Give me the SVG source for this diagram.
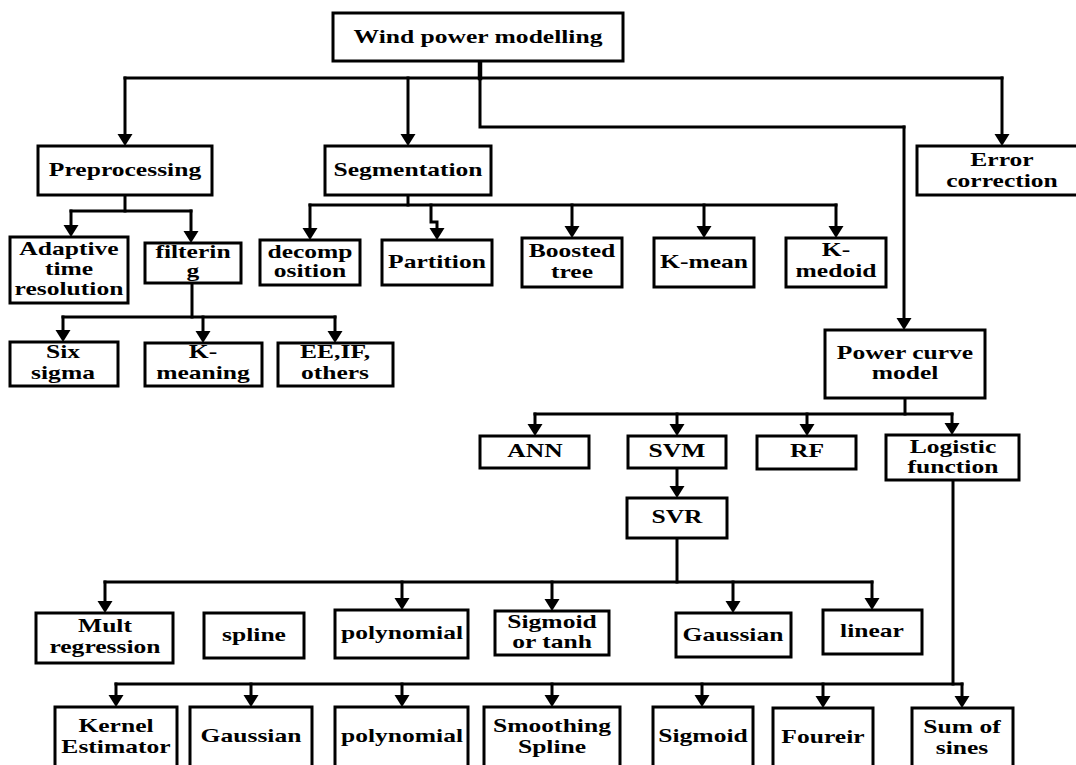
<svg xmlns="http://www.w3.org/2000/svg" width="1076" height="765" viewBox="0 0 1076 765">
<style>
.box{fill:#fff;stroke:#000;stroke-width:3}
.c{fill:none;stroke:#000;stroke-width:3;stroke-linecap:square}
.a{fill:none;stroke:#000;stroke-width:3;stroke-linecap:square;marker-end:url(#ah)}
text{font-family:"Liberation Serif","Times New Roman",serif;font-weight:bold;font-size:18px;text-anchor:middle;fill:#000}
</style>
<defs>
<marker id="ah" viewBox="0 -8 12 16" refX="2" refY="0" markerWidth="12" markerHeight="16" markerUnits="userSpaceOnUse" orient="auto"><path d="M0,-7.5 L12,0 L0,7.5 z" fill="#000"/></marker>
</defs>
<rect width="1076" height="765" fill="#fff"/>
<g id="connectors">
<path class="c" d="M480,61 V78" style="stroke-width:4.5"/>
<path class="c" d="M480,78 V127 H904"/>
<path class="a" d="M904,127 V320"/>
<path class="c" d="M125,78 H1002"/>
<path class="a" d="M125,78 V136"/>
<path class="a" d="M408,78 V136"/>
<path class="a" d="M1002,78 V136"/>
<path class="c" d="M125,195 V211"/>
<path class="c" d="M71,211 H191"/>
<path class="a" d="M71,211 V227"/>
<path class="a" d="M191,211 V233"/>
<path class="c" d="M192,283 V317"/>
<path class="c" d="M63,317 H335"/>
<path class="a" d="M63,317 V332"/>
<path class="a" d="M203,317 V333"/>
<path class="a" d="M335,317 V333"/>
<path class="c" d="M408,195 V205"/>
<path class="c" d="M310,205 H836"/>
<path class="a" d="M310,205 V230"/>
<path class="a" d="M431,205 V222 H437 V230"/>
<path class="a" d="M572,205 V228"/>
<path class="a" d="M704,205 V228"/>
<path class="a" d="M836,205 V228"/>
<path class="c" d="M905,398 V414"/>
<path class="c" d="M535,414 H952"/>
<path class="a" d="M535,414 V426"/>
<path class="a" d="M677,414 V426"/>
<path class="a" d="M807,414 V426"/>
<path class="a" d="M952,414 V425"/>
<path class="a" d="M677,468 V488"/>
<path class="c" d="M677,538 V582"/>
<path class="c" d="M105,582 H872"/>
<path class="a" d="M105,582 V603"/>
<path class="a" d="M402,582 V600"/>
<path class="a" d="M552,582 V601"/>
<path class="a" d="M733,582 V603"/>
<path class="a" d="M872,582 V600"/>
<path class="c" d="M953,480 V684"/>
<path class="c" d="M116,684 H962"/>
<path class="a" d="M116,684 V697"/>
<path class="a" d="M251,684 V697"/>
<path class="a" d="M402,684 V697"/>
<path class="a" d="M552,684 V697"/>
<path class="a" d="M702,684 V697"/>
<path class="a" d="M823,684 V698"/>
<path class="a" d="M962,684 V698"/>
</g>
<g id="wind"><rect class="box" x="333" y="13" width="290" height="48"/><text transform="translate(478,43) scale(1.42,1)">Wind power modelling</text></g>
<g id="preprocessing"><rect class="box" x="38" y="146" width="174" height="49"/><text transform="translate(125,176) scale(1.42,1)">Preprocessing</text></g>
<g id="segmentation"><rect class="box" x="325" y="146" width="166" height="49"/><text transform="translate(408,176) scale(1.42,1)">Segmentation</text></g>
<g id="error"><rect class="box" x="917" y="146" width="170" height="49"/><text transform="translate(1002,166) scale(1.42,1)">Error</text><text transform="translate(1002,187) scale(1.42,1)">correction</text></g>
<g id="adaptive"><rect class="box" x="10" y="237" width="118" height="66"/><text transform="translate(69,255) scale(1.42,1)">Adaptive</text><text transform="translate(69,275) scale(1.42,1)">time</text><text transform="translate(69,295) scale(1.42,1)">resolution</text></g>
<g id="filtering"><rect class="box" x="145" y="243" width="96" height="40"/><text transform="translate(193,258) scale(1.42,1)">filterin</text><text transform="translate(193,277) scale(1.42,1)">g</text></g>
<g id="decomposition"><rect class="box" x="260" y="240" width="100" height="45"/><text transform="translate(310,258) scale(1.42,1)">decomp</text><text transform="translate(310,277) scale(1.42,1)">osition</text></g>
<g id="partition"><rect class="box" x="382" y="240" width="110" height="45"/><text transform="translate(437,268) scale(1.42,1)">Partition</text></g>
<g id="boosted"><rect class="box" x="522" y="238" width="100" height="49"/><text transform="translate(572,257) scale(1.42,1)">Boosted</text><text transform="translate(572,278) scale(1.42,1)">tree</text></g>
<g id="kmean"><rect class="box" x="654" y="238" width="100" height="49"/><text transform="translate(704,268) scale(1.42,1)">K-mean</text></g>
<g id="kmedoid"><rect class="box" x="786" y="238" width="100" height="49"/><text transform="translate(836,256) scale(1.42,1)">K-</text><text transform="translate(836,277) scale(1.42,1)">medoid</text></g>
<g id="sixsigma"><rect class="box" x="10" y="342" width="108" height="44"/><text transform="translate(63,358) scale(1.42,1)">Six</text><text transform="translate(63,379) scale(1.42,1)">sigma</text></g>
<g id="kmeaning"><rect class="box" x="145" y="343" width="117" height="43"/><text transform="translate(203,358) scale(1.42,1)">K-</text><text transform="translate(203,379) scale(1.42,1)">meaning</text></g>
<g id="eeif"><rect class="box" x="278" y="343" width="115" height="43"/><text transform="translate(335,358) scale(1.42,1)">EE,IF,</text><text transform="translate(335,379) scale(1.42,1)">others</text></g>
<g id="powercurve"><rect class="box" x="825" y="330" width="160" height="68"/><text transform="translate(905,359) scale(1.42,1)">Power curve</text><text transform="translate(905,379) scale(1.42,1)">model</text></g>
<g id="ann"><rect class="box" x="480" y="436" width="109" height="32"/><text transform="translate(535,457) scale(1.42,1)">ANN</text></g>
<g id="svm"><rect class="box" x="628" y="436" width="98" height="32"/><text transform="translate(677,457) scale(1.42,1)">SVM</text></g>
<g id="rf"><rect class="box" x="757" y="436" width="99" height="33"/><text transform="translate(807,457) scale(1.42,1)">RF</text></g>
<g id="logistic"><rect class="box" x="886" y="435" width="133" height="45"/><text transform="translate(953,453) scale(1.42,1)">Logistic</text><text transform="translate(953,473) scale(1.42,1)">function</text></g>
<g id="svr"><rect class="box" x="627" y="498" width="100" height="40"/><text transform="translate(677,523) scale(1.42,1)">SVR</text></g>
<g id="mult"><rect class="box" x="36" y="613" width="137" height="50"/><text transform="translate(105,632) scale(1.42,1)">Mult</text><text transform="translate(105,653) scale(1.42,1)">regression</text></g>
<g id="spline"><rect class="box" x="204" y="613" width="100" height="45"/><text transform="translate(254,641) scale(1.42,1)">spline</text></g>
<g id="polynomial1"><rect class="box" x="335" y="610" width="133" height="48"/><text transform="translate(402,639) scale(1.42,1)">polynomial</text></g>
<g id="sigtanh"><rect class="box" x="495" y="611" width="114" height="44"/><text transform="translate(552,628) scale(1.42,1)">Sigmoid</text><text transform="translate(552,648) scale(1.42,1)">or tanh</text></g>
<g id="gaussian1"><rect class="box" x="676" y="613" width="115" height="44"/><text transform="translate(733,641) scale(1.42,1)">Gaussian</text></g>
<g id="linear"><rect class="box" x="823" y="610" width="99" height="44"/><text transform="translate(872,637) scale(1.42,1)">linear</text></g>
<g id="kernel"><rect class="box" x="55" y="707" width="122" height="65"/><text transform="translate(116,732) scale(1.42,1)">Kernel</text><text transform="translate(116,753) scale(1.42,1)">Estimator</text></g>
<g id="gaussian2"><rect class="box" x="190" y="707" width="122" height="65"/><text transform="translate(251,742) scale(1.42,1)">Gaussian</text></g>
<g id="polynomial2"><rect class="box" x="335" y="707" width="133" height="65"/><text transform="translate(402,742) scale(1.42,1)">polynomial</text></g>
<g id="smoothing"><rect class="box" x="484" y="707" width="136" height="65"/><text transform="translate(552,732) scale(1.42,1)">Smoothing</text><text transform="translate(552,753) scale(1.42,1)">Spline</text></g>
<g id="sigmoid"><rect class="box" x="653" y="707" width="100" height="65"/><text transform="translate(703,742) scale(1.42,1)">Sigmoid</text></g>
<g id="foureir"><rect class="box" x="773" y="708" width="100" height="65"/><text transform="translate(823,743) scale(1.42,1)">Foureir</text></g>
<g id="sumsines"><rect class="box" x="912" y="708" width="101" height="65"/><text transform="translate(962,733) scale(1.42,1)">Sum of</text><text transform="translate(962,754) scale(1.42,1)">sines</text></g>
</svg>
